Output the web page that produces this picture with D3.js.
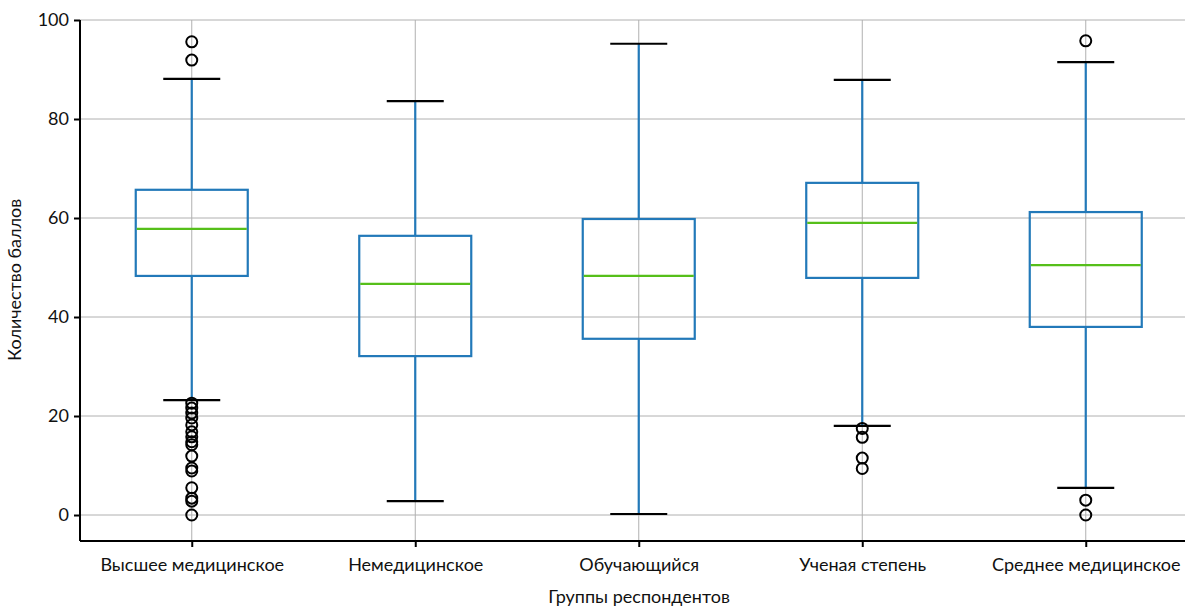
<!DOCTYPE html>
<html>
<head>
<meta charset="utf-8">
<script src="https://cdn.jsdelivr.net/npm/d3@7"></script>
<style>
  body { margin: 0; background: #fff; }
  svg text { font-family: Lato, "Open Sans", sans-serif; fill: #111; }
</style>
</head>
<body>
<div id="chart"></div>
<script>
// categories and box statistics
const categories = ["Высшее медицинское", "Немедицинское", "Обучающийся", "Ученая степень", "Среднее медицинское"];
const whiskerLow = [23.2, 2.8, 0.2, 18.0, 5.5];
const q1 = [48.3, 32.1, 35.6, 47.9, 38.0];
const medians = [57.8, 46.7, 48.3, 59.0, 50.5];
const q3 = [65.7, 56.4, 59.8, 67.1, 61.2];
const whiskerHigh = [88.1, 83.6, 95.2, 87.9, 91.5];
const outliers = [
  [95.6, 91.9, 22.6, 21.6, 20.6, 19.6, 18.2, 16.8, 15.8, 14.8, 14.2, 11.9, 9.5, 8.9, 5.5, 3.4, 2.8, 0],
  [],
  [],
  [17.5, 15.7, 11.5, 9.4],
  [95.8, 3.0, 0.0]
];
const yTicks = [0, 20, 40, 60, 80, 100];

const width = 1185, height = 607;
const margin = { top: 20, right: 0, bottom: 66, left: 80 };

const svg = d3.select('#chart').append('svg')
  .attr('width', width)
  .attr('height', height);

const x = d3.scaleLinear().domain([0.5, 5.5]).range([margin.left, margin.left + 5 * 223.5]);
const y = d3.scaleLinear().domain([-5.25, 100]).range([height - margin.bottom, margin.top]);

const plotRight = width;

// gridlines
svg.append('g').selectAll('line.hg').data(yTicks).join('line')
  .attr('x1', margin.left).attr('x2', plotRight)
  .attr('y1', d => y(d)).attr('y2', d => y(d))
  .attr('stroke', '#b0b0b0').attr('stroke-width', 1);
svg.append('g').selectAll('line.vg').data(categories).join('line')
  .attr('x1', (d, i) => x(i + 1)).attr('x2', (d, i) => x(i + 1))
  .attr('y1', y(100)).attr('y2', y(-5.25))
  .attr('stroke', '#b0b0b0').attr('stroke-width', 1);

// axes
const yAxis = svg.append('g')
  .attr('transform', `translate(${margin.left},0)`)
  .call(d3.axisLeft(y).tickValues(yTicks).tickSize(6).tickPadding(5).tickFormat(d3.format('d')));
const xAxis = svg.append('g')
  .attr('transform', `translate(0,${y(-5.25)})`)
  .call(d3.axisBottom(x).tickValues([1, 2, 3, 4, 5]).tickSize(6).tickPadding(11).tickFormat((d) => categories[d - 1]));
[yAxis, xAxis].forEach(a => {
  a.select('.domain').attr('stroke', '#000').attr('stroke-width', 2);
  a.selectAll('.tick line').attr('stroke', '#000').attr('stroke-width', 2);
  a.selectAll('.tick text').style('font-size', '18px').attr('fill', '#111');
});
yAxis.select('.domain').attr('d', `M0,${y(100)}V${y(-5.25)}`);
xAxis.select('.domain').attr('d', `M${margin.left},0H${plotRight}`);

const boxW = 112, capW = 57;
const blue = '#2279b9', green = '#56bf1a';
const g = svg.append('g');

categories.forEach((c, i) => {
  const cx = x(i + 1);
  // whiskers
  g.append('line').attr('x1', cx).attr('x2', cx).attr('y1', y(q3[i])).attr('y2', y(whiskerHigh[i]))
    .attr('stroke', blue).attr('stroke-width', 2.2);
  g.append('line').attr('x1', cx).attr('x2', cx).attr('y1', y(q1[i])).attr('y2', y(whiskerLow[i]))
    .attr('stroke', blue).attr('stroke-width', 2.2);
  // box
  g.append('rect').attr('x', cx - boxW / 2).attr('width', boxW)
    .attr('y', y(q3[i])).attr('height', y(q1[i]) - y(q3[i]))
    .attr('fill', 'none').attr('stroke', blue).attr('stroke-width', 2.2);
  // median
  g.append('line').attr('x1', cx - boxW / 2 + 1).attr('x2', cx + boxW / 2 - 1)
    .attr('y1', y(medians[i])).attr('y2', y(medians[i]))
    .attr('stroke', green).attr('stroke-width', 2.2);
  // caps
  [whiskerLow[i], whiskerHigh[i]].forEach(v => {
    g.append('line').attr('x1', cx - capW / 2).attr('x2', cx + capW / 2)
      .attr('y1', y(v)).attr('y2', y(v)).attr('stroke', '#000').attr('stroke-width', 2.2);
  });
  // outliers
  g.selectAll(null).data(outliers[i]).join('circle')
    .attr('cx', cx).attr('cy', d => y(d)).attr('r', 5.5)
    .attr('fill', 'none').attr('stroke', '#000').attr('stroke-width', 2);
});

// axis titles
svg.append('text')
  .attr('x', 639).attr('y', 603)
  .attr('text-anchor', 'middle').style('font-size', '18px')
  .text('Группы респондентов');
svg.append('text')
  .attr('transform', `translate(21,${y(47.5)}) rotate(-90)`)
  .attr('text-anchor', 'middle').style('font-size', '18px')
  .text('Количество баллов');
</script>
</body>
</html>
